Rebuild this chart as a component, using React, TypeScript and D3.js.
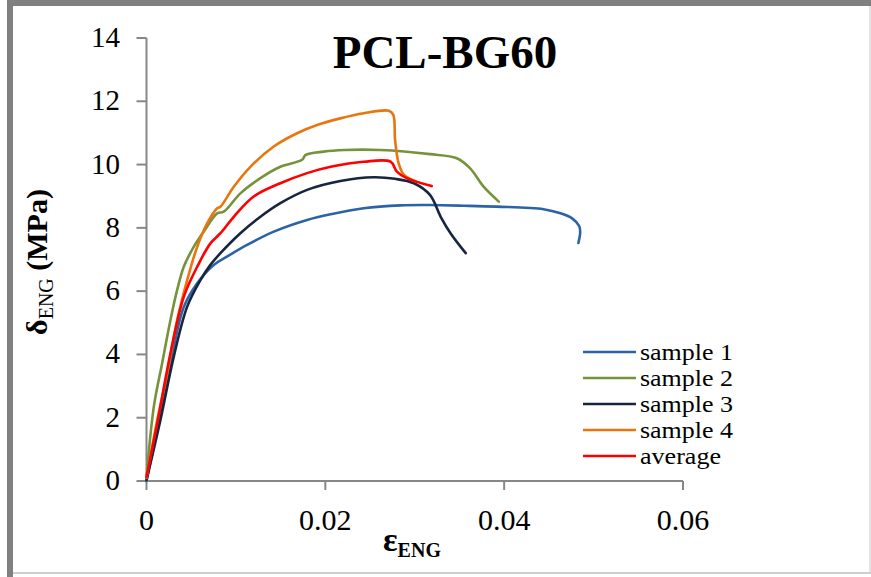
import React from "react";
import * as d3 from "d3";

type Pt = [number, number];

const sample1: Pt[] = [
  [0, 0], [0.0003, 0.4], [0.00156, 2.15], [0.00305, 4.25], [0.00417, 5.5], [0.00567, 6.25],
  [0.00752, 6.83], [0.009, 7.09], [0.01125, 7.46], [0.01423, 7.88], [0.01796, 8.25],
  [0.0206, 8.43], [0.0243, 8.62], [0.0284, 8.71], [0.0317, 8.72], [0.0355, 8.7],
  [0.0392, 8.67], [0.0444, 8.59], [0.0463, 8.46], [0.0476, 8.3], [0.0484, 8.05],
  [0.0485, 7.85], [0.0483, 7.52],
];
const sample2: Pt[] = [
  [0, 0.1], [0.00082, 2.35], [0.00175, 3.72], [0.00268, 5.09], [0.00343, 6.04],
  [0.00417, 6.77], [0.00528, 7.4], [0.0064, 7.88], [0.0079, 8.46], [0.00864, 8.51],
  [0.0105, 9.09], [0.01274, 9.57], [0.01497, 9.93], [0.0174, 10.15], [0.01777, 10.3],
  [0.01982, 10.41], [0.0221, 10.46], [0.02615, 10.46], [0.0317, 10.33], [0.0347, 10.2],
  [0.0362, 9.88], [0.0377, 9.3], [0.0394, 8.83],
];
const sample3: Pt[] = [
  [0, 0.03], [0.00156, 1.93], [0.00305, 3.93], [0.00455, 5.51], [0.00603, 6.35],
  [0.00715, 6.83], [0.00827, 7.2], [0.0105, 7.83], [0.01274, 8.35], [0.01497, 8.78],
  [0.01796, 9.2], [0.02168, 9.48], [0.0254, 9.6], [0.0278, 9.55], [0.0299, 9.41],
  [0.0317, 9.04], [0.0329, 8.35], [0.034, 7.83], [0.0357, 7.2],
];
const sample4: Pt[] = [
  [0, 0.1], [0.0012, 1.93], [0.00231, 3.4], [0.00343, 5.09], [0.00455, 6.35],
  [0.00567, 7.4], [0.00678, 8.14], [0.0079, 8.62], [0.00827, 8.67], [0.00976, 9.3],
  [0.01162, 9.93], [0.01423, 10.57], [0.01684, 10.99], [0.01908, 11.25], [0.02168, 11.46],
  [0.0243, 11.62], [0.0271, 11.7], [0.0276, 11.57], [0.0278, 10.78], [0.0282, 10.04],
  [0.0288, 9.67], [0.0302, 9.46],
];
const average: Pt[] = [
  [0, 0.13], [0.0012, 1.82], [0.00268, 4.04], [0.00417, 5.82], [0.00567, 6.77],
  [0.00715, 7.51], [0.00827, 7.83], [0.00976, 8.35], [0.01199, 8.99], [0.01497, 9.41],
  [0.01796, 9.73], [0.0206, 9.93], [0.0243, 10.09], [0.0273, 10.09], [0.028, 9.78],
  [0.0291, 9.57], [0.0319, 9.32],
];

const seriesNames = ["sample 1", "sample 2", "sample 3", "sample 4", "average"];
const seriesData = [sample1, sample2, sample3, sample4, average];
const seriesColors = ["#2c63a6", "#76933c", "#17263f", "#e8760f", "#ff0000"];
const xTicks = [0, 0.02, 0.04, 0.06];
const yTicks = [0, 2, 4, 6, 8, 10, 12, 14];
const xTickLabels = ["0", "0.02", "0.04", "0.06"];
const title = "PCL-BG60";

const W = 871;
const H = 577;
const FONT = "'Liberation Serif', 'Times New Roman', Times, serif";
const tf = { fontFamily: FONT };

export default function App() {
  const x = d3.scaleLinear().domain([0, 0.06]).range([146.5, 683]);
  const y = d3.scaleLinear().domain([0, 14]).range([481, 38]);
  const line = d3
    .line<Pt>()
    .x((d) => x(d[0]))
    .y((d) => y(d[1]))
    .curve(d3.curveCatmullRom.alpha(0.5));
  const axisColor = "#878787";
  const legendX = 583;
  const legendY0 = 352;
  const legendDy = 26;

  return (
    <svg
      width={W}
      height={H}
      style={{ position: "absolute", left: 0, top: 0, background: "#fff", fontFamily: FONT }}
    >
      <rect x={0} y={0} width={W} height={H} fill="#fff" />
      {/* frame */}
      <rect x={7} y={0} width={W - 7} height={6} fill="#808080" />
      <rect x={7} y={0} width={6} height={H} fill="#808080" />
      <rect x={13} y={572} width={W - 13} height={2} fill="#cfcfcf" />
      <rect x={W - 2} y={6} width={2} height={566} fill="#e4e4e4" />

      {/* axes */}
      <line x1={x(0)} x2={x(0)} y1={y(14)} y2={y(0)} stroke={axisColor} strokeWidth={2} />
      <line x1={x(0)} x2={x(0.06)} y1={y(0)} y2={y(0)} stroke={axisColor} strokeWidth={2} />
      {yTicks.map((t) => (
        <g key={"y" + t}>
          <line x1={x(0) - 10} x2={x(0)} y1={y(t)} y2={y(t)} stroke={axisColor} strokeWidth={2} />
          <text x={120} y={y(t) + 9} textAnchor="end" fontSize={29} fill="#000" style={tf}>
            {t}
          </text>
        </g>
      ))}
      {xTicks.map((t, i) => (
        <g key={"x" + t}>
          <line x1={x(t)} x2={x(t)} y1={y(0)} y2={y(0) + 9} stroke={axisColor} strokeWidth={2} />
          <text x={x(t)} y={530} textAnchor="middle" fontSize={30} fill="#000" style={tf}>
            {xTickLabels[i]}
          </text>
        </g>
      ))}

      {/* series */}
      {seriesData.map((d, i) => (
        <path
          key={seriesNames[i]}
          d={line(d) || ""}
          fill="none"
          stroke={seriesColors[i]}
          strokeWidth={2.6}
          strokeLinejoin="round"
          strokeLinecap="round"
        />
      ))}

      {/* title */}
      <text x={445} y={68} textAnchor="middle" fontSize={47} fontWeight="bold" fill="#000" style={tf}>
        {title}
      </text>

      {/* y label */}
      <text
        transform={`translate(47,262) rotate(-90)`}
        textAnchor="middle"
        fontSize={30}
        fontWeight="bold"
        fill="#000"
        style={tf}
      >
        δ
        <tspan fontSize={20} fontWeight="normal" dy={6}>
          ENG
        </tspan>
        <tspan dy={-6}> (MPa)</tspan>
      </text>

      {/* x label */}
      <text x={412} y={551} textAnchor="middle" fontSize={34} fontWeight="bold" fill="#000" style={tf}>
        ε
        <tspan fontSize={20} dy={6}>
          ENG
        </tspan>
      </text>

      {/* legend */}
      {seriesNames.map((n, i) => (
        <g key={"lg" + n}>
          <line
            x1={legendX}
            x2={legendX + 53}
            y1={legendY0 + i * legendDy}
            y2={legendY0 + i * legendDy}
            stroke={seriesColors[i]}
            strokeWidth={2.6}
          />
          <text
            x={legendX + 57}
            y={legendY0 + i * legendDy + 8}
            fontSize={23}
            textLength={n === "average" ? 81 : 93}
            lengthAdjust="spacingAndGlyphs"
            fill="#000"
            style={tf}
          >
            {n}
          </text>
        </g>
      ))}
    </svg>
  );
}
